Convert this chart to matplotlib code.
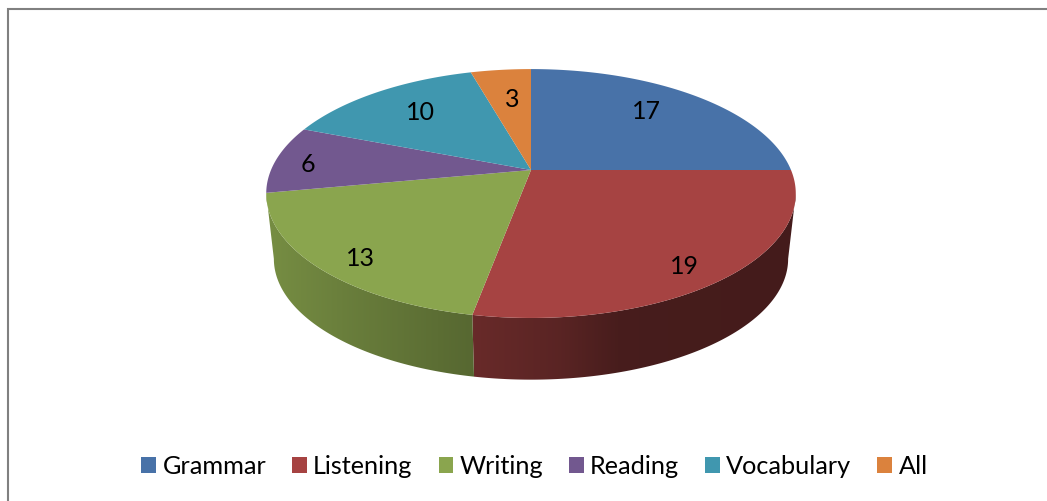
import numpy as np
import matplotlib
matplotlib.use("Agg")
import matplotlib.pyplot as plt
from matplotlib.path import Path
from matplotlib.patches import PathPatch
from matplotlib.colors import to_rgb

categories = ["Grammar", "Listening", "Writing", "Reading", "Vocabulary", "All"]
values = [17, 19, 13, 6, 10, 3]
colors = ["#4872A8", "#A64342", "#8AA54E", "#72588F", "#4097AF", "#DB823D"]
label_xy = [(646, 111), (684, 267), (360, 259), (308, 164), (420, 112), (512, 99)]

W, H = 1047, 501
CX = 531
TOP = dict(apex=170, R=260, Ry=120)
BOT = dict(apex=236, R=252.5, Ry=116.5)
K = 0.189

# brightness of the pie's wall, by screen x
SHADE_X = [274, 350, 472, 560, 620, 788]
SHADE_F = [0.85, 0.76, 0.63, 0.54, 0.43, 0.41]


def project(theta_deg, ell):
    t = np.radians(theta_deg)
    u, v = np.cos(t), np.sin(t)
    w = 1 + K * v
    return CX + ell["R"] * u / w, ell["apex"] - ell["Ry"] * v / w


plt.rcParams["font.family"] = ["Lato", "DejaVu Sans"]
fig = plt.figure(figsize=(W / 100, H / 100), dpi=100)
ax = fig.add_axes([0, 0, 1, 1])

wedges, _ = ax.pie(values, colors=colors, startangle=90, counterclock=False)

# Wall of the disc, below the top face: a horizontal gradient clipped to each slice
limit = np.degrees(np.arcsin(K))
px = np.arange(W + 1)
shade = np.interp(px, SHADE_X, SHADE_F)
for wedge, color in zip(wedges, colors):
    lo = max(wedge.theta1, -180 + limit)
    hi = min(wedge.theta2, -limit)
    if hi <= lo:
        continue
    th = np.linspace(lo, hi, 200)
    xt, yt = project(th, TOP)
    xb, yb = project(th[::-1], BOT)
    verts = np.column_stack([np.r_[xt, xb, xt[0]], np.r_[yt, yb, yt[0]]])
    clip = PathPatch(Path(verts, closed=True), facecolor="none", edgecolor="none",
                     transform=ax.transData)
    ax.add_patch(clip)
    grad = np.array(to_rgb(color))[None, None, :] * shade[None, :, None]
    im = ax.imshow(grad, extent=(0, W, 400, 100), aspect="auto", zorder=1,
                   interpolation="bilinear")
    im.set_clip_path(clip)

ax.set_aspect("auto")
ax.set_xlim(0, W)
ax.set_ylim(H, 0)
ax.axis("off")

# Top face: reuse the pie's wedges, seen in perspective
for wedge in wedges:
    th = np.linspace(wedge.theta1, wedge.theta2, 200)
    xs, ys = project(th, TOP)
    verts = np.column_stack([np.r_[CX, xs, CX], np.r_[TOP["apex"], ys, TOP["apex"]]])
    wedge._path = Path(verts, closed=True)
    wedge.set_zorder(2)
    wedge.set_edgecolor("none")

for v, (x, y) in zip(values, label_xy):
    ax.text(x, y, str(v), ha="center", va="center", fontsize=18, color="black", zorder=3)

# Frame
ax.plot([7.5, 7.5, W], [H, 9, 9], color="#808080", lw=1.5, solid_joinstyle="miter", zorder=0)

leg = ax.legend(wedges, categories, ncol=6, loc="center", bbox_to_anchor=(534.5 / W, 1 - 466.5 / H),
                frameon=False, fontsize=18.2, handlelength=0.59, handleheight=0.56,
                handletextpad=0.24, columnspacing=1.03, borderpad=0)

fig.savefig("out.png", dpi=100)
